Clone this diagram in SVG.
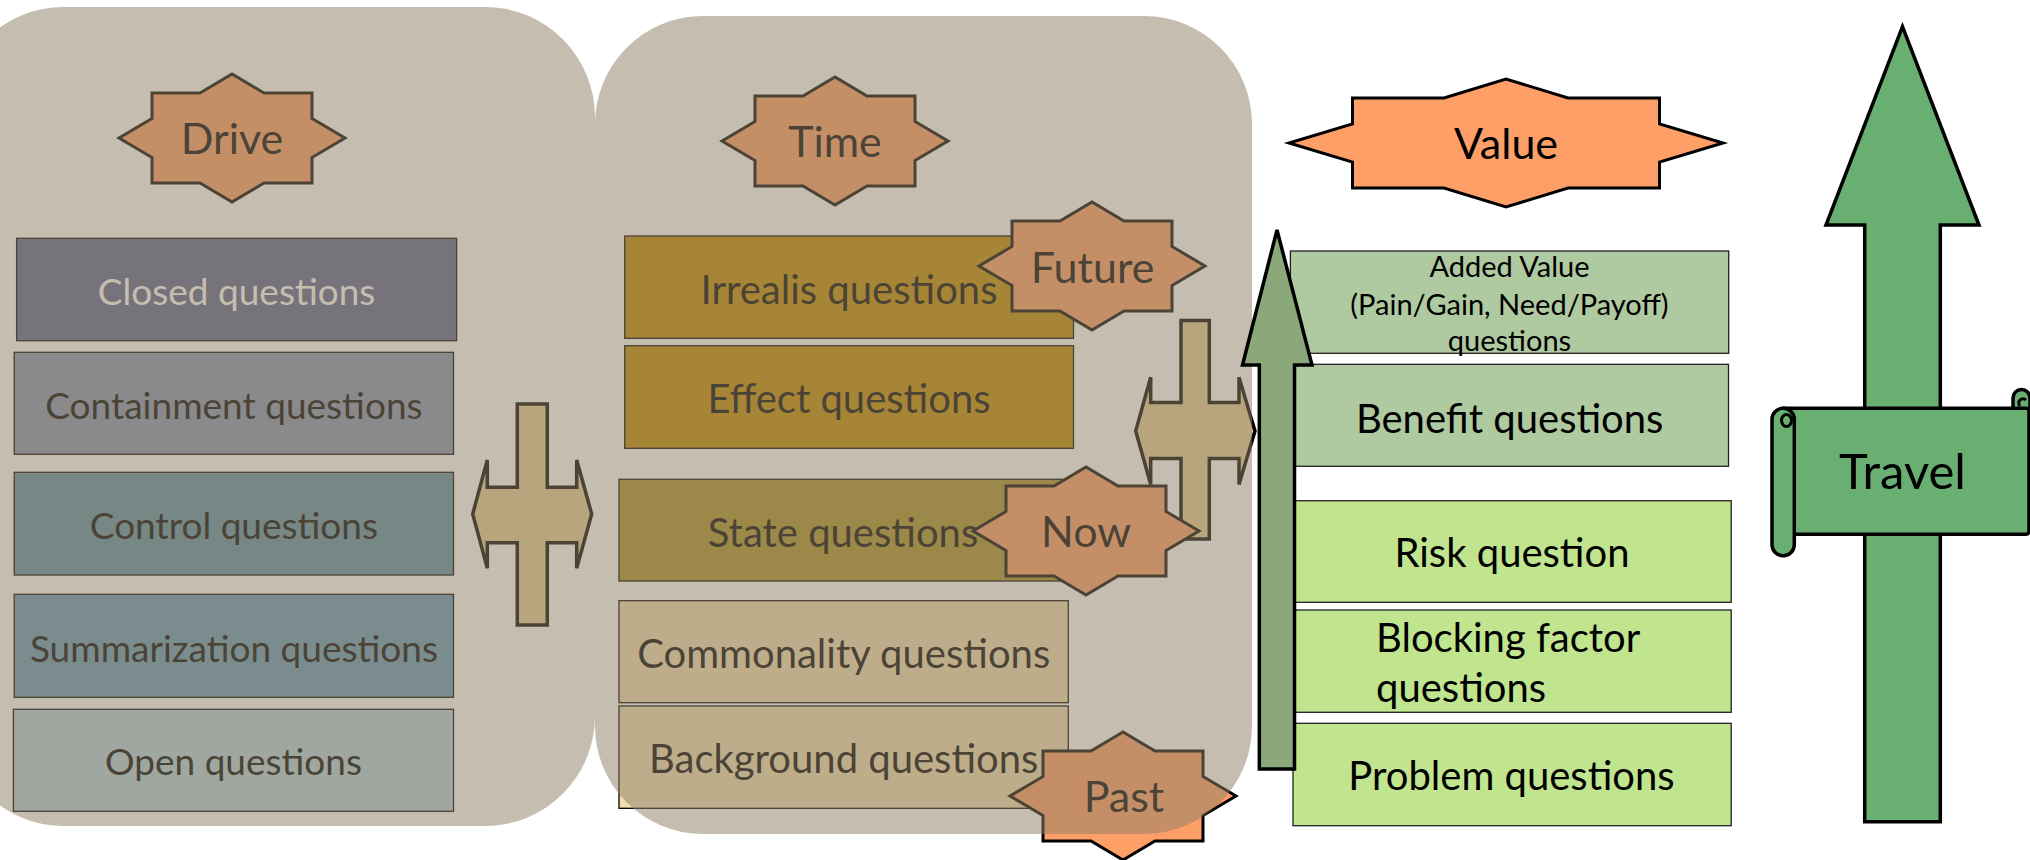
<svg xmlns="http://www.w3.org/2000/svg" xmlns:xlink="http://www.w3.org/1999/xlink" width="2030" height="860" viewBox="0 0 2030 860">
<style>
text{font-family:Lato,"Liberation Sans",sans-serif;text-anchor:middle;fill:#000}
.star{fill:#FF9F68;stroke:#000;stroke-width:3;stroke-linejoin:miter}
.st{font-size:43px}
.box{stroke:#000;stroke-width:1.3}
.dt{font-size:37px}
.tt{font-size:40px}
.vt{font-size:40px}
.dbl{fill:#E6CB94;stroke:#000;stroke-width:3.5;stroke-linejoin:miter}
.panel{fill:#8E8067;fill-opacity:0.52}
.garrow{stroke:#000;stroke-width:3.5;stroke-linejoin:miter}
.vbox{stroke:#222;stroke-width:1.3}
</style>
<defs>
<polygon id="star8" points="-80,-45 -32,-45 0,-64 32,-45 80,-45 80,-19.5 113,0 80,19.5 80,45 32,45 0,64 -32,45 -80,45 -80,19.5 -113,0 -80,-19.5"/>
</defs>

<!-- Drive panel contents -->
<g id="closed"><rect class="box" x="16.6" y="238.3" width="440" height="102.4" fill="#5C648E"/><text class="dt" x="236.6" y="304.5" style="fill:#fff">Closed questions</text></g>
<g id="containment"><rect class="box" x="14.2" y="352.3" width="439.3" height="102" fill="#8694B4"/><text class="dt" x="233.9" y="418.5">Containment questions</text></g>
<g id="control"><rect class="box" x="14.2" y="472.3" width="439.3" height="102.7" fill="#5E8EA7"/><text class="dt" x="233.9" y="539">Control questions</text></g>
<g id="summarization"><rect class="box" x="14.2" y="594.3" width="439.3" height="103" fill="#6799BA"/><text class="dt" x="233.9" y="661.5">Summarization questions</text></g>
<g id="open"><rect class="box" x="13.4" y="709.3" width="440.1" height="102" fill="#B4D1E0"/><text class="dt" x="233.5" y="775">Open questions</text></g>
<g id="drive"><use href="#star8" class="star" transform="translate(232,138)"/><text class="st" x="232" y="154">Drive</text></g>

<!-- Time panel contents -->
<g id="irrealis"><rect class="box" x="624.7" y="236" width="448.8" height="102.3" fill="#C38A00"/><text class="tt" x="849" y="304">Irrealis questions</text></g>
<g id="effect"><rect class="box" x="624.7" y="345.7" width="448.8" height="102.6" fill="#C38A00"/><text class="tt" x="849" y="413.3">Effect questions</text></g>
<g id="state"><rect class="box" x="619" y="479.3" width="454.5" height="101.7" fill="#AC9028"/><text class="tt" x="843" y="546.7">State questions</text></g>
<g id="commonality"><rect class="box" x="619" y="600.7" width="449.3" height="102" fill="#F3DDB0"/><text class="tt" x="843.7" y="668.3">Commonality questions</text></g>
<g id="background"><rect class="box" x="619" y="706" width="449.3" height="102.3" fill="#F3DDB0"/><text class="tt" x="843.7" y="773.3">Background questions</text></g>

<g id="connectors">
<polygon id="double-arrow-drive" class="dbl" points="517.3,404 547.3,404 547.3,487.3 576.7,487.3 576.7,460 591.7,514 576.7,568.3 576.7,542.7 547.3,542.7 547.3,625 517.3,625 517.3,542.7 487.3,542.7 487.3,568.3 472.7,514 487.3,460 487.3,487.3 517.3,487.3"/>
<polygon id="double-arrow-time" class="dbl" points="1181,320.6 1209.3,320.6 1209.3,402.4 1239,402.4 1239,377.2 1255,430.9 1239,484.5 1239,458.6 1209.3,458.6 1209.3,538.9 1181,538.9 1181,458.6 1150.7,458.6 1150.7,484.5 1135.7,430.9 1150.7,377.2 1150.7,402.4 1181,402.4"/>
</g>

<g id="time"><use href="#star8" class="star" transform="translate(835,141)"/><text class="st" x="835" y="157">Time</text></g>
<g id="future"><use href="#star8" class="star" transform="translate(1092,266)"/><text class="st" x="1092.6" y="282.7">Future</text></g>
<g id="now"><use href="#star8" class="star" transform="translate(1086,531)"/><text class="st" x="1086" y="546.7">Now</text></g>
<g id="past"><use href="#star8" class="star" transform="translate(1123,796)"/><text class="st" x="1124" y="811.7">Past</text></g>

<!-- translucent panels -->
<g id="panel-drive"><rect class="panel" x="-46" y="7" width="641" height="819" rx="110" ry="110"/></g>
<g id="panel-time"><rect class="panel" x="595" y="16" width="657" height="818" rx="108" ry="108"/></g>

<!-- Value column -->
<g id="added-value"><rect class="vbox" x="1290.4" y="251" width="438.3" height="102.3" fill="#AFC9A0"/>
<text x="1509.5" y="276.7" style="font-size:29px">Added Value</text>
<text x="1509.5" y="315" style="font-size:29px">(Pain/Gain, Need/Payoff)</text>
<text x="1509.5" y="350.7" style="font-size:29px">questions</text></g>
<g id="benefit"><rect class="vbox" x="1293" y="364.3" width="435.5" height="102" fill="#AFC9A0"/><text class="vt" x="1509.7" y="432.7">Benefit questions</text></g>
<g id="risk"><rect class="vbox" x="1294.4" y="500.7" width="436.8" height="101.6" fill="#C0E58E"/><text class="vt" x="1512" y="566.7">Risk question</text></g>
<g id="blocking"><rect class="vbox" x="1294.4" y="610" width="436.8" height="102.3" fill="#C0E58E"/><text class="vt" x="1376" y="651.7" style="text-anchor:start">Blocking factor</text><text class="vt" x="1376" y="701.7" style="text-anchor:start">questions</text></g>
<g id="problem"><rect class="vbox" x="1293" y="723.3" width="438.2" height="102.4" fill="#C0E58E"/><text class="vt" x="1511.5" y="790">Problem questions</text></g>
<g id="value-arrow"><polygon class="garrow" fill="#8AA87A" points="1277,230 1312,365 1294.5,365 1294.5,769 1259.3,769 1259.3,365 1242.5,365"/></g>
<g id="value"><polygon class="star" points="1352.5,98 1444,98 1506,79 1568,98 1659.5,98 1659.5,124 1723,143 1659.5,162 1659.5,188 1568,188 1506,207 1444,188 1352.5,188 1352.5,162 1289,143 1352.5,124"/><text class="st" x="1506" y="159.3">Value</text></g>

<!-- Travel -->
<g id="travel-arrow"><polygon class="garrow" fill="#6AAF72" points="1902.5,26.7 1979,225 1940.3,225 1940.3,821.7 1864.7,821.7 1864.7,225 1826,225"/></g>
<g id="travel">
<path d="M2013,409 L2013,398 A8.5,8.5 0 0 1 2030,398 L2030,409 Z" fill="#6AAF72" stroke="#000" stroke-width="3.5"/>
<path d="M2020,406 A4,4 0 1 1 2026,400" fill="none" stroke="#000" stroke-width="3"/>
<path d="M1783,408.3 L2026,408.3 Q2029,408.3 2029,411 L2029,531 Q2029,534.3 2026,534.3 L1794.3,534.3 Z" fill="#6AAF72" stroke="#000" stroke-width="3.5" stroke-linejoin="round"/>
<rect x="1772" y="408.3" width="22.3" height="147.4" rx="11" ry="11" fill="#6AAF72" stroke="#000" stroke-width="3.5"/>
<ellipse cx="1786.5" cy="420.5" rx="5" ry="6" fill="none" stroke="#000" stroke-width="3"/>
<text x="1902.5" y="489.3" style="font-size:49px">Travel</text>
</g>
</svg>
